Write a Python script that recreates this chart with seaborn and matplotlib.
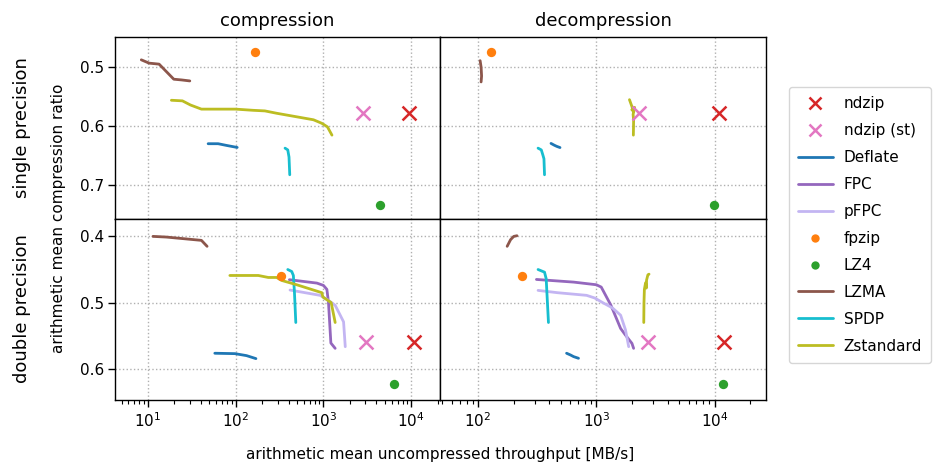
import numpy as np
import pandas as pd
import matplotlib
matplotlib.use("Agg")
import matplotlib.pyplot as plt
from matplotlib.lines import Line2D
from matplotlib.ticker import LogLocator, NullFormatter
import seaborn as sns

sns.set_theme(style="white")
plt.rcParams['font.family'] = ['DejaVu Sans']
plt.rcParams['mathtext.fontset'] = 'dejavusans'
for k in ["text.color", "axes.labelcolor", "xtick.color", "ytick.color", "axes.edgecolor"]:
    plt.rcParams[k] = "black"

# ---------------- data (throughput MB/s, compression ratio) ----------------
# single precision, compression
sc_ndzip = ([9360], [0.578])
sc_ndzip_st = ([2790], [0.578])
sc_deflate = ([48.5, 63, 78.7, 104], [0.6295, 0.6295, 0.6324, 0.6358])
sc_fpzip = ([166], [0.474])
sc_lz4 = ([4370], [0.733])
sc_lzma = ([8.4, 10.3, 13.4, 19.7, 24.1, 30], [0.4876, 0.4932, 0.4949, 0.5204, 0.5216, 0.5233])
sc_spdp = ([365, 392, 405, 413], [0.637, 0.640, 0.652, 0.682])
sc_zstd = ([18.5, 24.7, 30.5, 40.7, 99.5, 158, 215, 293, 769, 959, 1110, 1250],
           [0.556, 0.557, 0.564, 0.571, 0.571, 0.573, 0.574, 0.578, 0.589, 0.595, 0.601, 0.615])

# single precision, decompression
sd_ndzip = ([10800], [0.578])
sd_ndzip_st = ([2306], [0.578])
sd_deflate = ([413, 440, 462, 492], [0.629, 0.632, 0.634, 0.636])
sd_fpzip = ([129], [0.474])
sd_lz4 = ([9840], [0.733])
sd_lzma = ([104, 106, 107, 106], [0.489, 0.500, 0.515, 0.525])
sd_spdp = ([321, 342, 353, 360, 364], [0.637, 0.640, 0.649, 0.655, 0.682])
sd_zstd = ([1900, 1980, 2060, 1990, 2100, 2040, 2060, 2050],
           [0.555, 0.565, 0.575, 0.572, 0.568, 0.580, 0.590, 0.615])

# double precision, compression
dc_ndzip = ([10880], [0.560])
dc_ndzip_st = ([3020], [0.560])
dc_deflate = ([57.8, 98, 133, 170], [0.5764, 0.577, 0.580, 0.5845])
dc_fpc = ([409, 842, 1000, 1094, 1140, 1215, 1360],
          [0.4654, 0.4705, 0.474, 0.480, 0.499, 0.561, 0.569])
dc_pfpc = ([416, 916, 1140, 1360, 1553, 1695, 1772],
           [0.481, 0.489, 0.4965, 0.504, 0.519, 0.529, 0.5665])
dc_fpzip = ([331], [0.4605])
dc_lz4 = ([6430], [0.623])
dc_lzma = ([11.4, 16.2, 40.7, 47.2], [0.400, 0.401, 0.406, 0.415])
dc_spdp = ([392, 435, 454, 467, 484], [0.450, 0.453, 0.459, 0.484, 0.530])
dc_zstd = ([85.8, 181, 235, 293, 334, 496, 959, 985, 1225, 1360],
           [0.459, 0.459, 0.462, 0.462, 0.4665, 0.473, 0.485, 0.4915, 0.500, 0.530])

# double precision, decompression
dd_ndzip = ([12000], [0.560])
dd_ndzip_st = ([2735], [0.560])
dd_deflate = ([559, 603, 641, 705], [0.5764, 0.579, 0.5815, 0.584])
dd_fpc = ([311, 641, 998, 1097, 1325, 1600, 1758, 1994, 2060],
          [0.465, 0.469, 0.473, 0.4765, 0.504, 0.539, 0.549, 0.5615, 0.569])
dd_pfpc = ([321, 469, 826, 966, 1130, 1365, 1600, 1758, 1872],
           [0.4815, 0.485, 0.489, 0.493, 0.500, 0.508, 0.519, 0.541, 0.5665])
dd_fpzip = ([234], [0.4605])
dd_lz4 = ([11650], [0.623])
dd_lzma = ([176, 188, 200, 213], [0.415, 0.405, 0.400, 0.399])
dd_spdp = ([321, 364, 376, 393], [0.450, 0.454, 0.464, 0.530])
dd_zstd = ([2510, 2520, 2540, 2600, 2640, 2650, 2720, 2780],
           [0.530, 0.500, 0.480, 0.470, 0.478, 0.466, 0.458, 0.457])

names = ["ndzip", "ndzip (st)", "Deflate", "FPC", "pFPC", "fpzip", "LZ4", "LZMA", "SPDP", "Zstandard"]
colors = {"ndzip": "#d62728", "ndzip (st)": "#e377c2", "Deflate": "#1f77b4", "FPC": "#9467bd",
          "pFPC": "#c3b5f2", "fpzip": "#ff7f0e", "LZ4": "#2ca02c", "LZMA": "#8c564b",
          "SPDP": "#17becf", "Zstandard": "#bcbd22"}
kind = {"ndzip": "x", "ndzip (st)": "x", "fpzip": "o", "LZ4": "o"}

panels = {
    (0, 0): {"ndzip": sc_ndzip, "ndzip (st)": sc_ndzip_st, "Deflate": sc_deflate, "fpzip": sc_fpzip,
             "LZ4": sc_lz4, "LZMA": sc_lzma, "SPDP": sc_spdp, "Zstandard": sc_zstd},
    (0, 1): {"ndzip": sd_ndzip, "ndzip (st)": sd_ndzip_st, "Deflate": sd_deflate, "fpzip": sd_fpzip,
             "LZ4": sd_lz4, "LZMA": sd_lzma, "SPDP": sd_spdp, "Zstandard": sd_zstd},
    (1, 0): {"ndzip": dc_ndzip, "ndzip (st)": dc_ndzip_st, "Deflate": dc_deflate, "FPC": dc_fpc,
             "pFPC": dc_pfpc, "fpzip": dc_fpzip, "LZ4": dc_lz4, "LZMA": dc_lzma, "SPDP": dc_spdp,
             "Zstandard": dc_zstd},
    (1, 1): {"ndzip": dd_ndzip, "ndzip (st)": dd_ndzip_st, "Deflate": dd_deflate, "FPC": dd_fpc,
             "pFPC": dd_pfpc, "fpzip": dd_fpzip, "LZ4": dd_lz4, "LZMA": dd_lzma, "SPDP": dd_spdp,
             "Zstandard": dd_zstd},
}

fig, axes = plt.subplots(2, 2, figsize=(9.34, 4.66), dpi=100)
fig.subplots_adjust(left=0.123, right=0.820, top=0.9206, bottom=0.1416, wspace=0, hspace=0)

xlims = {0: (4.2, 21500), 1: (48, 27000)}
ylims = {0: (0.756, 0.449), 1: (0.647, 0.373)}
yticks = {0: [0.5, 0.6, 0.7], 1: [0.4, 0.5, 0.6]}

for (r, c), data in panels.items():
    ax = axes[r, c]
    for name in names:
        if name not in data:
            continue
        xs, ys = data[name]
        df = pd.DataFrame({"x": xs, "y": ys})
        if name in kind:
            if kind[name] == "x":
                sns.scatterplot(data=df, x="x", y="y", ax=ax, marker="x", color=colors[name],
                                s=100, linewidth=1.8, legend=False, zorder=4)
            else:
                sns.scatterplot(data=df, x="x", y="y", ax=ax, marker="o", color=colors[name],
                                s=45, linewidth=0, legend=False, zorder=4)
        else:
            sns.lineplot(data=df, x="x", y="y", ax=ax, sort=False, estimator=None,
                         color=colors[name], linewidth=2.0, legend=False)
    ax.set_xscale("log")
    ax.set_xlim(*xlims[c])
    ax.set_ylim(*ylims[r])
    ax.set_yticks(yticks[r])
    ax.set_xlabel("")
    ax.set_ylabel("")
    ax.xaxis.set_major_locator(LogLocator(base=10, numticks=10))
    ax.xaxis.set_minor_locator(LogLocator(base=10, subs=np.arange(2, 10), numticks=20))
    ax.xaxis.set_minor_formatter(NullFormatter())
    ax.grid(True, which="major", linestyle=":", color="#b0b0b0", linewidth=1.0)
    for s in ax.spines.values():
        s.set_color("black")
        s.set_linewidth(1.0)
    ax.tick_params(axis="both", which="major", direction="out", length=5, width=1,
                   color="black", labelcolor="black", labelsize=11, pad=3)
    ax.tick_params(axis="x", which="minor", direction="out", length=3, width=0.8, color="black")
    if r == 0:
        ax.tick_params(axis="x", which="both", bottom=False, labelbottom=False)
    else:
        ax.tick_params(axis="x", which="both", bottom=True, labelbottom=True)
    if c == 1:
        ax.tick_params(axis="y", which="both", left=False, labelleft=False)
    else:
        ax.tick_params(axis="y", which="both", left=True, labelleft=True)

axes[0, 0].set_title("compression", fontsize=13, pad=8, color="black")
axes[0, 1].set_title("decompression", fontsize=13, pad=8, color="black")

fig.text(22 / 934, 1 - 127.5 / 466, "single precision", rotation=90, ha="center", va="center", fontsize=13)
fig.text(22 / 934, 1 - 309 / 466, "double precision", rotation=90, ha="center", va="center", fontsize=13)
fig.text(58 / 934, 1 - 218 / 466, "arithmetic mean compression ratio", rotation=90,
         ha="center", va="center", fontsize=11)
fig.text(440.5 / 934, 1 - 455 / 466, "arithmetic mean uncompressed throughput [MB/s]",
         ha="center", va="center", fontsize=11)

handles = []
for name in names:
    if name in kind:
        if kind[name] == "x":
            h = Line2D([], [], linestyle="none", marker="x", markersize=9, markeredgewidth=1.8,
                       color=colors[name], label=name)
        else:
            h = Line2D([], [], linestyle="none", marker="o", markersize=6, markeredgewidth=0,
                       color=colors[name], label=name)
    else:
        h = Line2D([], [], color=colors[name], linewidth=2.0, label=name)
    handles.append(h)

leg = fig.legend(handles=handles, loc="center left", bbox_to_anchor=(784 / 934, 1 - 225 / 466),
                 fontsize=11, frameon=True, handlelength=2.3, borderpad=0.6, labelspacing=0.78,
                 handletextpad=0.7, borderaxespad=0.3)
leg.get_frame().set_edgecolor("#cccccc")

fig.savefig("out.png", dpi=100)
